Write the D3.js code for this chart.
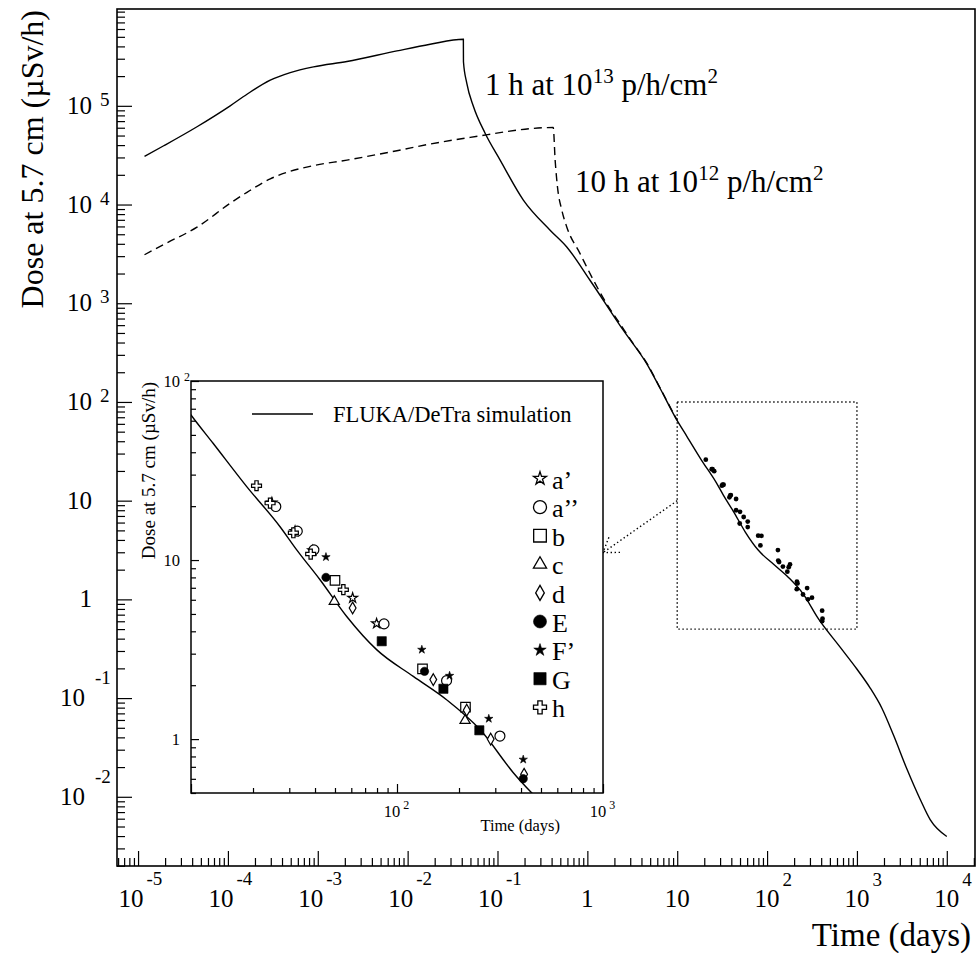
<!DOCTYPE html>
<html>
<head>
<meta charset="utf-8">
<script src="https://cdn.jsdelivr.net/npm/d3@7"></script>
<style>
	body { margin: 0; background: #fff; }
	svg { display: block; font-family: "Liberation Serif", "Times New Roman", serif; }
</style>
</head>
<body>
<div id="chart"></div>
<script>
// FLUKA/DeTra simulation, 1 h at 1e13 p/h/cm2 (time in days, dose in uSv/h)
var solidTime = [1.18e-5, 1.93e-5, 4.53e-5, 1.06e-4, 1.63e-4, 2.96e-4, 4.94e-4, 8.97e-4, 2.11e-3, 7.60e-3, 1.78e-2,
	0.0417, 0.0418, 0.0455, 0.0540, 0.0728, 0.107, 0.194, 0.385, 0.590, 1.07, 2.52, 4.59, 6.46,
	10, 12.8, 18.6, 27.0, 32.6, 42.3, 57.0, 79.6, 120, 174, 253, 367, 650, 998, 1400, 1890, 2550, 3590, 5050, 6530, 10000];
var solidDose = [3.08e4, 3.94e4, 6.14e4, 1.00e5, 1.31e5, 1.82e5, 2.17e5, 2.48e5, 2.81e5, 3.60e5, 4.20e5,
	4.73e5, 2.80e5, 1.70e5, 9.84e4, 5.28e4, 2.82e4, 1.11e4, 5.50e3, 3.72e3, 1.71e3, 530, 243, 137,
	64.6, 44.9, 25.8, 15.4, 11.4, 7.76, 4.84, 3.16, 2.24, 1.66, 1.13, 0.649, 0.328, 0.197, 0.127, 0.0794, 0.0422, 0.0192, 9.44e-3, 5.87e-3, 3.96e-3];

// 10 h at 1e12 p/h/cm2
var dashedTime = [1.18e-5, 1.93e-5, 4.53e-5, 1.06e-4, 1.63e-4, 2.96e-4, 4.94e-4, 8.97e-4, 2.11e-3, 7.60e-3, 1.78e-2,
	0.0497, 0.417, 0.438, 0.465, 0.520, 0.590, 0.830, 1.17, 1.64, 2.31, 3.26, 4.59, 6.46, 10];
var dashedDose = [3.10e3, 3.94e3, 5.90e3, 1.03e4, 1.33e4, 1.82e4, 2.17e4, 2.48e4, 2.82e4, 3.51e4, 4.10e4,
	4.79e4, 6.03e4, 2.82e4, 1.51e4, 8.77e3, 5.93e3, 3.18e3, 1.71e3, 989, 619, 387, 248, 138, 64.9];

// measurements [days, uSv/h]
var pointsA1 = [[24.7, 20.9], [32.0, 14.5], [39.0, 11.3], [60.9, 6.14], [79.6, 4.42]];
var pointsA2 = [[25.8, 19.9], [32.8, 14.5], [39.5, 11.4], [86.5, 4.40], [174, 2.12], [316, 1.04]];
var pointsB = [[50.0, 7.70], [133, 2.47], [215, 1.51]];
var pointsC = [[49.6, 5.87], [214, 1.27]];
var pointsD = [[60.9, 5.40], [150, 2.15], [218, 1.45], [285, 1.00], [414, 0.636]];
var pointsE = [[45.2, 8.0], [136, 2.39], [410, 0.601]];
var pointsF1 = [[45.2, 10.4], [132, 3.16], [180, 2.26], [279, 1.30], [410, 0.769]];
var pointsG = [[84.3, 3.52], [168, 1.91], [251, 1.12]];
var pointsH = [[20.8, 26.0], [24.2, 20.8], [31.4, 14.2], [38.1, 10.8], [54.9, 6.83]];

var seriesNames = ["a\u2019", "a\u2019\u2019", "b", "c", "d", "E", "F\u2019", "G", "h"];
var seriesPoints = [pointsA1, pointsA2, pointsB, pointsC, pointsD, pointsE, pointsF1, pointsG, pointsH];

// axis ranges and tick labels
var mainTimeRange = [5.83e-6, 2.06e4];
var mainDoseRange = [1.99e-3, 9.57e5];
var mainTimeLabels = [1e-5, 1e-4, 1e-3, 1e-2, 1e-1, 1, 10, 100, 1e3, 1e4];
var mainDoseLabels = [1e-2, 1e-1, 1, 10, 100, 1e3, 1e4, 1e5];
var insetTimeRange = [10, 1000];
var insetDoseRange = [0.5, 100];
var insetTimeLabels = [100, 1000];
var insetDoseLabels = [1, 10, 100];
var arrowFrom = [10, 10];     // main plot coords
var arrowTo = [1000, 11];     // inset coords

var main = {left: 117, right: 975, top: 9, bottom: 866};
var ins = {left: 191, right: 603, top: 381, bottom: 793};

var x = d3.scaleLog().domain(mainTimeRange).range([main.left, main.right]);
var y = d3.scaleLog().domain(mainDoseRange).range([main.bottom, main.top]);
var xi = d3.scaleLog().domain(insetTimeRange).range([ins.left, ins.right]);
var yi = d3.scaleLog().domain(insetDoseRange).range([ins.bottom, ins.top]);

function logTicks(lo, hi, major) {
	var out = [];
	for (var e = Math.floor(Math.log10(lo)); e <= Math.ceil(Math.log10(hi)); e++) {
		for (var m = 1; m < 10; m++) {
			var v = m * Math.pow(10, e);
			if (v >= lo * 0.999 && v <= hi * 1.001 && (m === 1) === major) out.push(v);
		}
	}
	return out;
}

var svg = d3.
select("#chart").
append("svg").
attr("width", 976).
attr("height", 953);

svg.append("rect").attr("width", 976).attr("height", 953).attr("fill", "#fff");

var defs = svg.append("defs");
defs.append("clipPath").attr("id", "clipMain").append("rect").
attr("x", main.left).attr("y", main.top).
attr("width", main.right - main.left).attr("height", main.bottom - main.top);
defs.append("clipPath").attr("id", "clipInset").append("rect").
attr("x", ins.left).attr("y", ins.top).
attr("width", ins.right - ins.left).attr("height", ins.bottom - ins.top);

function pairs(ts, ds) {
	return ts.map(function (t, i) {return [t, ds[i]];});
}

var mainLine = d3.line().
curve(d3.curveMonotoneX).
x(function (d) {return x(d[0]);}).
y(function (d) {return y(d[1]);});

var gMain = svg.append("g").attr("clip-path", "url(#clipMain)");

gMain.
append("path").
attr("d", mainLine(pairs(dashedTime, dashedDose))).
attr("fill", "none").
attr("stroke", "#000").
attr("stroke-width", 1.4).
attr("stroke-dasharray", "8,5");

gMain.
append("path").
attr("d", mainLine(pairs(solidTime, solidDose))).
attr("fill", "none").
attr("stroke", "#000").
attr("stroke-width", 1.4);

var allPoints = [];
seriesPoints.forEach(function (s) {allPoints = allPoints.concat(s);});

gMain.
selectAll("circle.dot").
data(allPoints).
enter().
append("circle").
attr("class", "dot").
attr("cx", function (d) {return x(d[0]);}).
attr("cy", function (d) {return y(d[1]);}).
attr("r", 2.4).
attr("fill", "#000");

// dotted zoom box
svg.
append("rect").
attr("x", x(insetTimeRange[0])).
attr("y", y(insetDoseRange[1])).
attr("width", x(insetTimeRange[1]) - x(insetTimeRange[0])).
attr("height", y(insetDoseRange[0]) - y(insetDoseRange[1])).
attr("fill", "none").
attr("stroke", "#000").
attr("stroke-width", 1.4).
attr("stroke-dasharray", "1.4,2.6");

// arrow to the inset
var ax0 = x(arrowFrom[0]), ay0 = y(arrowFrom[1]);
var ax1 = xi(arrowTo[0]), ay1 = yi(arrowTo[1]);
var ang = Math.atan2(ay0 - ay1, ax0 - ax1);
var barb = 17, spread = 34 * Math.PI / 180;
var arrowPath = "M" + ax0 + "," + ay0 + "L" + ax1 + "," + ay1 +
	"M" + (ax1 + barb * Math.cos(ang + spread)) + "," + (ay1 + barb * Math.sin(ang + spread)) +
	"L" + ax1 + "," + ay1 +
	"L" + (ax1 + barb * Math.cos(ang - spread)) + "," + (ay1 + barb * Math.sin(ang - spread));
svg.
append("path").
attr("d", arrowPath).
attr("fill", "none").
attr("stroke", "#000").
attr("stroke-width", 1.4).
attr("stroke-dasharray", "1.4,2.6");

// ---------- inset ----------
svg.
append("rect").
attr("x", ins.left).attr("y", ins.top).
attr("width", ins.right - ins.left).attr("height", ins.bottom - ins.top).
attr("fill", "#fff");

var insetLine = d3.line().
curve(d3.curveMonotoneX).
x(function (d) {return xi(d[0]);}).
y(function (d) {return yi(d[1]);});

var gIns = svg.append("g").attr("clip-path", "url(#clipInset)");
gIns.
append("path").
attr("d", insetLine(pairs(solidTime, solidDose).filter(function (d) {return d[0] > 5;}))).
attr("fill", "none").
attr("stroke", "#000").
attr("stroke-width", 1.4);

var symbolTypes = [d3.symbolStar, d3.symbolCircle, d3.symbolSquare, d3.symbolTriangle, d3.symbolDiamond,
	d3.symbolCircle, d3.symbolStar, d3.symbolSquare, d3.symbolCross];
var symbolFilled = [false, false, false, false, false, true, true, true, false];
var symbolSize = [30, 78, 90, 45, 40, 55, 22, 85, 55];
var legendSize = [52, 133, 160, 75, 65, 133, 48, 150, 94];

seriesPoints.forEach(function (pts, k) {
	gIns.
	selectAll("path.m" + k).
	data(pts).
	enter().
	append("path").
	attr("class", "m" + k).
	attr("transform", function (d) {return "translate(" + xi(d[0]) + "," + yi(d[1]) + ")";}).
	attr("d", d3.symbol().type(symbolTypes[k]).size(symbolSize[k])).
	attr("fill", symbolFilled[k] ? "#000" : "#fff").
	attr("stroke", "#000").
	attr("stroke-width", symbolFilled[k] ? 0.6 : 1.2);
});

// inset legend
svg.append("line").
attr("x1", 252).attr("x2", 313).attr("y1", 414).attr("y2", 414).
attr("stroke", "#000").attr("stroke-width", 1.4);
svg.append("text").
attr("x", 333).attr("y", 421.5).
style("font-size", "22.5px").
text("FLUKA/DeTra simulation");

var legend = svg.
selectAll("g.leg").
data(seriesNames).
enter().
append("g").
attr("class", "leg").
attr("transform", function (d, i) {return "translate(540," + (478.5 + i * 28.6) + ")";});

legend.
append("path").
attr("d", function (d, i) {return d3.symbol().type(symbolTypes[i]).size(legendSize[i])();}).
attr("fill", function (d, i) {return symbolFilled[i] ? "#000" : "#fff";}).
attr("stroke", "#000").
attr("stroke-width", function (d, i) {return symbolFilled[i] ? 0.6 : 1.3;});

legend.
append("text").
attr("x", 12).
attr("y", 10).
style("font-size", "26px").
text(function (d) {return d;});

// inset frame and ticks
svg.
append("rect").
attr("x", ins.left).attr("y", ins.top).
attr("width", ins.right - ins.left).attr("height", ins.bottom - ins.top).
attr("fill", "none").
attr("stroke", "#000").
attr("stroke-width", 1.5);

function tickAxis(axis, tr, vals, len) {
	var g = svg.append("g").attr("transform", tr).
	call(axis.tickValues(vals).tickSize(len).tickFormat(""));
	g.select(".domain").remove();
	g.selectAll("line").attr("stroke-width", 1.2);
	return g;
}

tickAxis(d3.axisRight(yi), "translate(" + ins.left + ",0)", logTicks(0.5, 100, true), 8);
tickAxis(d3.axisRight(yi), "translate(" + ins.left + ",0)", logTicks(0.5, 100, false), 5);
tickAxis(d3.axisTop(xi), "translate(0," + ins.bottom + ")", logTicks(10, 1000, true), 9);
tickAxis(d3.axisTop(xi), "translate(0," + ins.bottom + ")", logTicks(10, 1000, false), 5);

// ---------- main frame and axes ----------
svg.
append("rect").
attr("x", main.left).attr("y", main.top).
attr("width", main.right - main.left).attr("height", main.bottom - main.top).
attr("fill", "none").
attr("stroke", "#000").
attr("stroke-width", 1.6);

tickAxis(d3.axisRight(y), "translate(" + main.left + ",0)", logTicks(mainDoseRange[0], mainDoseRange[1], true), 15);
tickAxis(d3.axisRight(y), "translate(" + main.left + ",0)", logTicks(mainDoseRange[0], mainDoseRange[1], false), 8);
tickAxis(d3.axisTop(x), "translate(0," + main.bottom + ")", logTicks(mainTimeRange[0], mainTimeRange[1], true), 15);
tickAxis(d3.axisTop(x), "translate(0," + main.bottom + ")", logTicks(mainTimeRange[0], mainTimeRange[1], false), 8);

// "10" with a raised exponent, in ROOT fashion
function powerLabel(px, py, v, o) {
	var e = Math.round(Math.log10(v));
	var t = svg.append("text").attr("y", py).style("font-size", o.size + "px").text(e === 0 ? "1" : "10");
	var w = t.node().getComputedTextLength();
	var left = o.left(px, w, e);
	t.attr("x", left);
	if (e !== 0 && e !== 1) {
		svg.append("text").
		attr("x", left + w + (e < 0 ? o.gapNeg : o.gap)).
		attr("y", py + (e < 0 ? o.dyNeg : o.dy)).
		style("font-size", o.sup + "px").
		text(e < 0 ? "-" + (-e) : "" + e);
	}
}

mainDoseLabels.forEach(function (v) {
	powerLabel(main.left, y(v) + 8, v, {
		size: 25, sup: 19, gap: 8, gapNeg: 10, dy: -8, dyNeg: -22,
		left: function (px, w, e) {return (e < 0 ? 85 : 92) - w;}
	});
});
mainTimeLabels.forEach(function (v) {
	powerLabel(x(v), 907, v, {
		size: 25, sup: 19, gap: 3, gapNeg: 3, dy: -21, dyNeg: -22,
		left: function (px, w, e) {return e < 0 ? px + 5.5 - w : px - w / 2;}
	});
});
insetDoseLabels.forEach(function (v) {
	powerLabel(ins.left, yi(v) + 6, v, {
		size: 16.5, sup: 12, gap: 4, gapNeg: 4, dy: -6, dyNeg: -6,
		left: function (px, w, e) {return 180 - w;}
	});
});
insetTimeLabels.forEach(function (v) {
	powerLabel(xi(v), 817, v, {
		size: 16.5, sup: 12, gap: 3, gapNeg: 3, dy: -8, dyNeg: -8,
		left: function (px, w, e) {return px - 5 - w / 2;}
	});
});

// titles
svg.append("text").
attr("transform", "translate(43,10) rotate(-90)").
attr("text-anchor", "end").
style("font-size", "32px").
text("Dose at 5.7 cm (\u00b5Sv/h)");

svg.append("text").
attr("x", 971).attr("y", 946).
attr("text-anchor", "end").
style("font-size", "33px").
text("Time (days)");

svg.append("text").
attr("transform", "translate(155,382) rotate(-90)").
attr("text-anchor", "end").
style("font-size", "19px").
text("Dose at 5.7 cm (\u00b5Sv/h)");

svg.append("text").
attr("x", 560).attr("y", 831).
attr("text-anchor", "end").
style("font-size", "16.5px").
text("Time (days)");

// annotations
function annotation(px, py, pre, exp1) {
	var t = svg.append("text").attr("x", px).attr("y", py).style("font-size", "31px");
	t.append("tspan").text(pre + " h at 10");
	t.append("tspan").attr("dy", -12).style("font-size", "21px").text(exp1);
	t.append("tspan").attr("dy", 12).text(" p/h/cm");
	t.append("tspan").attr("dy", -12).style("font-size", "21px").text("2");
}
annotation(485, 95, "1", "13");
annotation(575, 192, "10", "12");
</script>
</body>
</html>
